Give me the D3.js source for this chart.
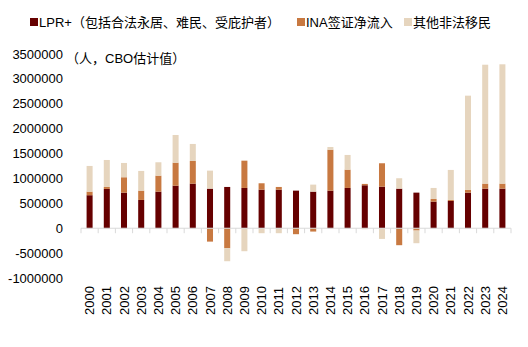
<!DOCTYPE html>
<html>
<head>
<meta charset="utf-8">
<script src="https://cdn.jsdelivr.net/npm/d3@7"></script>
<style>
  body { margin: 0; background: #fff; }
  text { font-family: "Liberation Sans", Arial, "Noto Sans CJK SC", sans-serif; fill: #000; }
</style>
</head>
<body>
<svg width="528" height="347"></svg>
<script>
const years = d3.range(2000, 2025).map(String);
const lpr   = [663, 789, 715, 568, 735, 855, 896, 795, 829, 809, 775, 775, 755, 735, 755, 809, 863, 835, 795, 715, 534, 548, 715, 795, 795].map(v => v * 1000);
const ina   = [72, 40, 309, 187, 321, 462, 455, -269, -402, 548, 128, 54, -120, -67, 823, 368, 27, 470, -341, -47, 54, 20, 54, 101, 101].map(v => v * 1000);
const other = [516, 542, 287, 396, 269, 556, 342, 362, -261, -462, -100, -100, 0, 141, 54, 295, -20, -215, 209, -254, 221, 603, 1894, 2389, 2397].map(v => v * 1000);
const yTicks = [-1000000, -500000, 0, 500000, 1000000, 1500000, 2000000, 2500000, 3000000, 3500000];

const keys = ["lpr", "ina", "other"];
const names = ["LPR+（包括合法永居、难民、受庇护者）", "INA签证净流入", "其他非法移民"];
const colors = ["#660000", "#c87941", "#e6d5be"];

const svg = d3.select("svg");
const table = years.map((y, i) => ({year: y, lpr: lpr[i], ina: ina[i], other: other[i]}));

const x = d3.scaleBand().domain(years).range([81, 511]).paddingInner(0.65).paddingOuter(0.325);
const y = d3.scaleLinear().domain([-1000000, 3500000]).range([278, 54]);
const color = d3.scaleOrdinal().domain(keys).range(colors);

const series = d3.stack().keys(keys).offset(d3.stackOffsetDiverging)(table);

svg.append("g")
  .selectAll("g")
  .data(series)
  .join("g")
  .attr("fill", d => color(d.key))
  .selectAll("rect")
  .data(d => d)
  .join("rect")
  .attr("x", d => x(d.data.year))
  .attr("width", x.bandwidth())
  .attr("y", d => y(Math.max(d[0], d[1])))
  .attr("height", d => Math.abs(y(d[0]) - y(d[1])));

// zero line with ticks between categories
const step = x.step();
const zero = svg.append("g").attr("transform", `translate(0,${y(0)})`);
zero.append("line")
  .attr("x1", 81).attr("x2", 511)
  .attr("stroke", "#d9d9d9").attr("stroke-width", 1);
zero.selectAll(".tk")
  .data(d3.range(years.length + 1))
  .join("line")
  .attr("class", "tk")
  .attr("x1", i => 81 + i * step).attr("x2", i => 81 + i * step)
  .attr("y1", 0).attr("y2", 5)
  .attr("stroke", "#d9d9d9");

// y labels
svg.append("g")
  .selectAll("text")
  .data(yTicks)
  .join("text")
  .attr("x", 63)
  .attr("y", d => y(d))
  .attr("dy", "0.35em")
  .attr("text-anchor", "end")
  .style("font-size", "13px")
  .text(d => d);

svg.append("text")
  .attr("x", 66).attr("y", 58)
  .attr("dy", "0.35em")
  .style("font-size", "13px")
  .text("（人，CBO估计值）");

// x labels, rotated
svg.append("g")
  .selectAll("text")
  .data(years)
  .join("text")
  .attr("transform", d => `translate(${x(d) + x.bandwidth() / 2},315) rotate(-90)`)
  .attr("dy", "0.35em")
  .style("font-size", "13px")
  .text(d => d);

// legend
const legendX = [30, 297, 404];
const legend = svg.append("g")
  .selectAll("g")
  .data(keys)
  .join("g")
  .attr("transform", (d, i) => `translate(${legendX[i]},18)`);

legend.append("rect")
  .attr("width", 8).attr("height", 8)
  .attr("fill", d => color(d));

legend.append("text")
  .attr("x", 9).attr("y", 4)
  .attr("dy", "0.35em")
  .style("font-size", "13px")
  .text((d, i) => names[i]);
</script>
</body>
</html>
